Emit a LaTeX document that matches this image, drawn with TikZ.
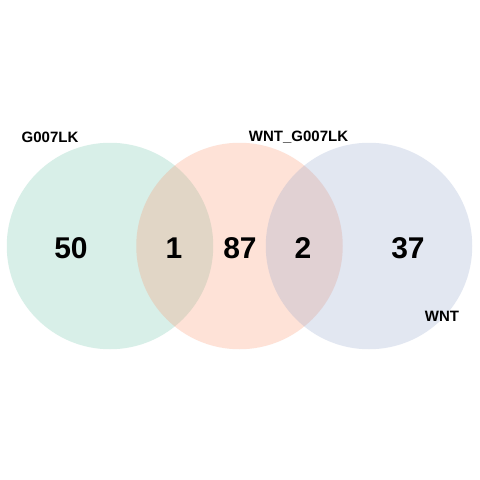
\documentclass[tikz,border=0pt]{standalone}
\usepackage{fontspec}
\setmainfont{Liberation Sans}
\definecolor{cA}{HTML}{66C2A5}
\definecolor{cB}{HTML}{FC8D62}
\definecolor{cC}{HTML}{8DA0CB}
\begin{document}
\begin{tikzpicture}[x=1pt,y=-1pt,
  setcirc/.style={circle,minimum size=206.5pt,inner sep=0pt,fill opacity=0.25,draw=none},
  cnt/.style={font=\fontsize{30}{30}\selectfont\bfseries,inner sep=0pt,text=black},
  lab/.style={font=\fontsize{15}{15}\selectfont\bfseries,inner sep=0pt,text=black}]
\useasboundingbox[fill=white] (0,0) rectangle (480,480);
\node[setcirc,fill=cA] (A) at (110,246) {};
\node[setcirc,fill=cB] (B) at (239.5,246) {};
\node[setcirc,fill=cC] (C) at (369,246) {};
\node[cnt] (n50) at (71,248) {50};
\node[cnt] (n1) at (174,248) {1};
\node[cnt] (n87) at (240,248) {87};
\node[cnt] (n2) at (303,248) {2};
\node[cnt] (n37) at (408,248) {37};
\node[lab] (lA) at (50,137) {G007LK};
\node[lab] (lB) at (298.5,137) {WNT\_G007LK};
\node[lab] (lC) at (442,316) {WNT};
\end{tikzpicture}
\end{document}
